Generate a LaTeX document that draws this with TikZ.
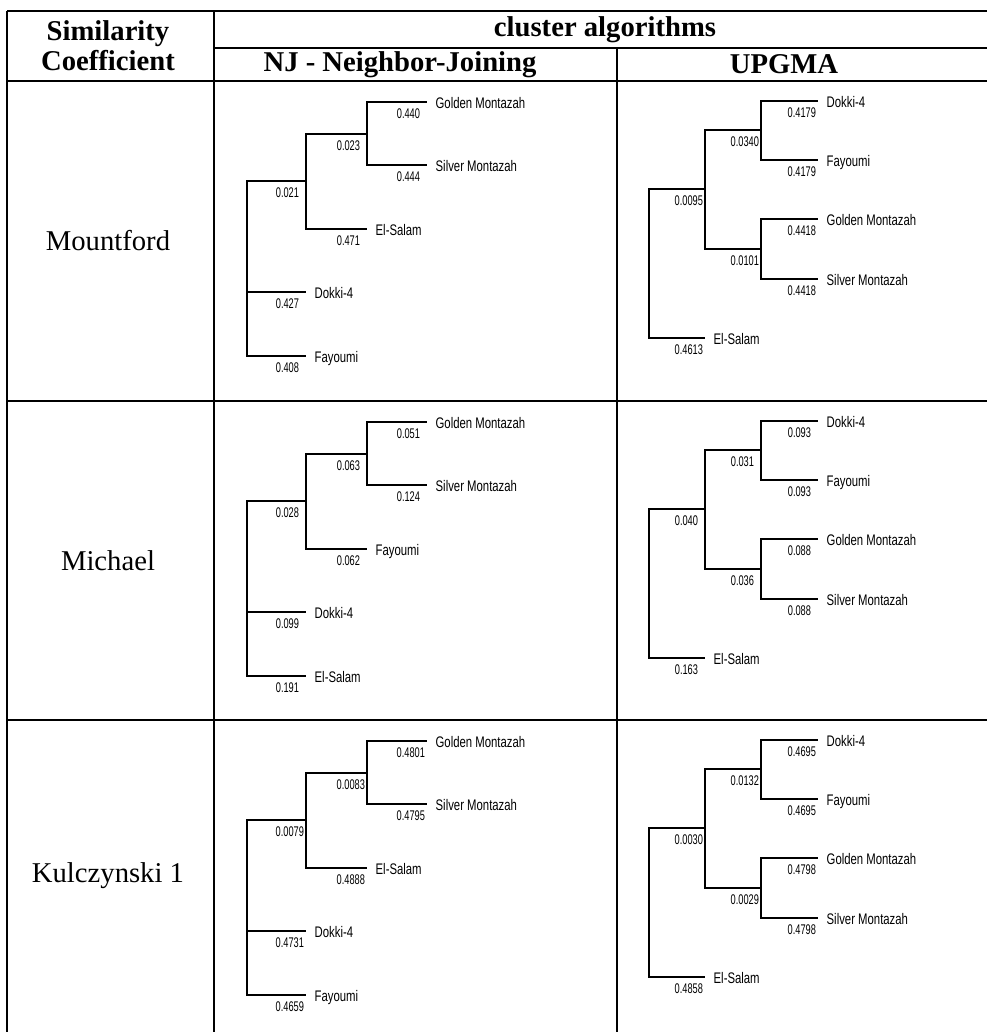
\documentclass[tikz,border=0pt]{standalone}
\usepackage{fontspec}
\setmainfont{Liberation Serif}
\newfontfamily\taxonfont[FakeStretch=0.74]{Liberation Sans}
\newfontfamily\lenfont[FakeStretch=0.66]{Liberation Sans}
\usetikzlibrary{positioning,calc}

\begin{document}
\begin{tikzpicture}[
	x=0.75pt, y=-0.75pt,
	grid/.style={line width=1.5pt},
	branch/.style={line width=1.8pt},
	head/.style={font=\fontsize{21.5}{22.5}\selectfont\bfseries, align=center},
	coef/.style={font=\fontsize{21.5}{24}\selectfont},
	taxon/.style={anchor=west, inner xsep=6.5pt, inner ysep=0pt, outer sep=0pt, text height=9pt, text depth=0pt, font=\taxonfont\fontsize{11.5}{12}\selectfont},
	len/.style={anchor=north east, inner sep=0pt, outer sep=0pt, text height=7.5pt, xshift=-1.5pt, yshift=-4.5pt, font=\lenfont\fontsize{10.5}{11}\selectfont},
	short/.style={len/.append style={xshift=-3.75pt}}
	]
	\useasboundingbox (0,0) rectangle (987,1032);
	\clip (0,0) rectangle (987,1032);

	% table
	\draw[grid] (7,11) -- (995,11);
	\draw[grid] (214,48) -- (995,48);
	\foreach \y in {81,401,720}
		\draw[grid] (7,\y) -- (995,\y);
	\draw[grid] (7,11) -- (7,1040);
	\draw[grid] (214,11) -- (214,1040);
	\draw[grid] (617,48) -- (617,1040);

	\node[head] (simcoef) at (108,46) {Similarity\\Coefficient};
	\node[head] (cluster) at (605,29.5) {cluster algorithms};
	\node[head] (nj) at (400,64.5) {NJ - Neighbor-Joining};
	\node[head] (upgma) at (784,64.5) {UPGMA};

	\node[coef] (mountford) at (108,241) {Mountford};
	\node[coef] (michael) at (108,560.5) {Michael};
	\node[coef] (kulczynski) at (108,876) {Kulczynski 1};

	% NJ - Mountford
	\begin{scope}[shift={(0,81)}, name prefix=nja-, short]
		\node[taxon] (gm) at (427,21) {Golden Montazah};
		\node[taxon] (sm) at (427,84) {Silver Montazah};
		\node[taxon] (es) at (367,148) {El-Salam};
		\node[taxon] (dk) at (306,211) {Dokki-4};
		\node[taxon] (fy) at (306,275) {Fayoumi};
		\coordinate (n2) at (367,53);
		\coordinate (n1) at (306,100);
		\coordinate (root) at (247,188);
		\draw[branch] (n2) |- (gm.west) node[len] {0.440};
		\draw[branch] (n2) |- (sm.west) node[len] {0.444};
		\draw[branch] (n1) |- (n2) node[len] {0.023};
		\draw[branch] (n1) |- (es.west) node[len] {0.471};
		\draw[branch] (root) |- (n1) node[len] {0.021};
		\draw[branch] (root) |- (dk.west) node[len] {0.427};
		\draw[branch] (root) |- (fy.west) node[len] {0.408};
	\end{scope}

	% UPGMA - Mountford
	\begin{scope}[shift={(0,81)}, name prefix=upa-]
		\node[taxon] (dk) at (818,20) {Dokki-4};
		\node[taxon] (fy) at (818,79) {Fayoumi};
		\node[taxon] (gm) at (818,138) {Golden Montazah};
		\node[taxon] (sm) at (818,198) {Silver Montazah};
		\node[taxon] (es) at (705,257) {El-Salam};
		\coordinate (b) at (761,49);
		\coordinate (c) at (761,168);
		\coordinate (a) at (705,108);
		\coordinate (root) at (649,183);
		\draw[branch] (b) |- (dk.west) node[len] {0.4179};
		\draw[branch] (b) |- (fy.west) node[len] {0.4179};
		\draw[branch] (a) |- (b) node[len] {0.0340};
		\draw[branch] (c) |- (gm.west) node[len] {0.4418};
		\draw[branch] (c) |- (sm.west) node[len] {0.4418};
		\draw[branch] (a) |- (c) node[len] {0.0101};
		\draw[branch] (root) |- (a) node[len] {0.0095};
		\draw[branch] (root) |- (es.west) node[len] {0.4613};
	\end{scope}

	% NJ - Michael
	\begin{scope}[shift={(0,401)}, name prefix=njb-, short]
		\node[taxon] (gm) at (427,21) {Golden Montazah};
		\node[taxon] (sm) at (427,84) {Silver Montazah};
		\node[taxon] (fy) at (367,148) {Fayoumi};
		\node[taxon] (dk) at (306,211) {Dokki-4};
		\node[taxon] (es) at (306,275) {El-Salam};
		\coordinate (n2) at (367,53);
		\coordinate (n1) at (306,100);
		\coordinate (root) at (247,188);
		\draw[branch] (n2) |- (gm.west) node[len] {0.051};
		\draw[branch] (n2) |- (sm.west) node[len] {0.124};
		\draw[branch] (n1) |- (n2) node[len] {0.063};
		\draw[branch] (n1) |- (fy.west) node[len] {0.062};
		\draw[branch] (root) |- (n1) node[len] {0.028};
		\draw[branch] (root) |- (dk.west) node[len] {0.099};
		\draw[branch] (root) |- (es.west) node[len] {0.191};
	\end{scope}

	% UPGMA - Michael
	\begin{scope}[shift={(0,401)}, name prefix=upb-, short]
		\node[taxon] (dk) at (818,20) {Dokki-4};
		\node[taxon] (fy) at (818,79) {Fayoumi};
		\node[taxon] (gm) at (818,138) {Golden Montazah};
		\node[taxon] (sm) at (818,198) {Silver Montazah};
		\node[taxon] (es) at (705,257) {El-Salam};
		\coordinate (b) at (761,49);
		\coordinate (c) at (761,168);
		\coordinate (a) at (705,108);
		\coordinate (root) at (649,183);
		\draw[branch] (b) |- (dk.west) node[len] {0.093};
		\draw[branch] (b) |- (fy.west) node[len] {0.093};
		\draw[branch] (a) |- (b) node[len] {0.031};
		\draw[branch] (c) |- (gm.west) node[len] {0.088};
		\draw[branch] (c) |- (sm.west) node[len] {0.088};
		\draw[branch] (a) |- (c) node[len] {0.036};
		\draw[branch] (root) |- (a) node[len] {0.040};
		\draw[branch] (root) |- (es.west) node[len] {0.163};
	\end{scope}

	% NJ - Kulczynski 1
	\begin{scope}[shift={(0,720)}, name prefix=njc-]
		\node[taxon] (gm) at (427,21) {Golden Montazah};
		\node[taxon] (sm) at (427,84) {Silver Montazah};
		\node[taxon] (es) at (367,148) {El-Salam};
		\node[taxon] (dk) at (306,211) {Dokki-4};
		\node[taxon] (fy) at (306,275) {Fayoumi};
		\coordinate (n2) at (367,53);
		\coordinate (n1) at (306,100);
		\coordinate (root) at (247,188);
		\draw[branch] (n2) |- (gm.west) node[len] {0.4801};
		\draw[branch] (n2) |- (sm.west) node[len] {0.4795};
		\draw[branch] (n1) |- (n2) node[len] {0.0083};
		\draw[branch] (n1) |- (es.west) node[len] {0.4888};
		\draw[branch] (root) |- (n1) node[len] {0.0079};
		\draw[branch] (root) |- (dk.west) node[len] {0.4731};
		\draw[branch] (root) |- (fy.west) node[len] {0.4659};
	\end{scope}

	% UPGMA - Kulczynski 1
	\begin{scope}[shift={(0,720)}, name prefix=upc-]
		\node[taxon] (dk) at (818,20) {Dokki-4};
		\node[taxon] (fy) at (818,79) {Fayoumi};
		\node[taxon] (gm) at (818,138) {Golden Montazah};
		\node[taxon] (sm) at (818,198) {Silver Montazah};
		\node[taxon] (es) at (705,257) {El-Salam};
		\coordinate (b) at (761,49);
		\coordinate (c) at (761,168);
		\coordinate (a) at (705,108);
		\coordinate (root) at (649,183);
		\draw[branch] (b) |- (dk.west) node[len] {0.4695};
		\draw[branch] (b) |- (fy.west) node[len] {0.4695};
		\draw[branch] (a) |- (b) node[len] {0.0132};
		\draw[branch] (c) |- (gm.west) node[len] {0.4798};
		\draw[branch] (c) |- (sm.west) node[len] {0.4798};
		\draw[branch] (a) |- (c) node[len] {0.0029};
		\draw[branch] (root) |- (a) node[len] {0.0030};
		\draw[branch] (root) |- (es.west) node[len] {0.4858};
	\end{scope}
\end{tikzpicture}
\end{document}
